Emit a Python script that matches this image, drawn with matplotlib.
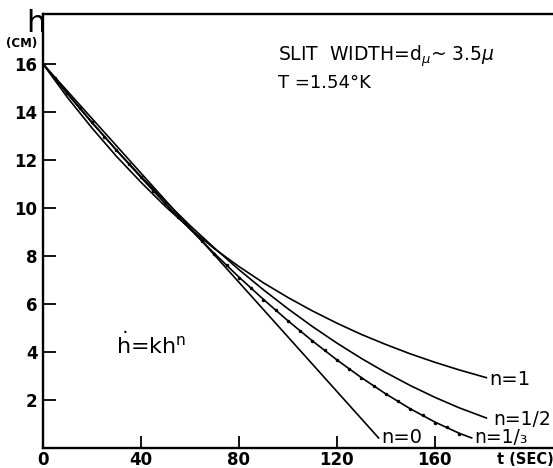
import matplotlib

matplotlib.use("Agg")
import matplotlib.pyplot as plt

# curves (t in sec, h in cm)
t_n1 = [0, 10, 20, 30, 40, 50, 60, 70, 80, 90, 100, 110, 120, 130, 140, 150, 160, 170, 181]
h_n1 = [16, 14.60, 13.33, 12.15, 11.07, 10.06, 9.14, 8.30, 7.56, 6.88, 6.27, 5.71, 5.20,
        4.73, 4.31, 3.92, 3.57, 3.25, 2.93]
t_n12 = [0, 10, 20, 30, 40, 50, 60, 70, 80, 90, 100, 110, 120, 130, 140, 150, 160, 170, 181]
h_n12 = [16, 14.75, 13.55, 12.41, 11.31, 10.27, 9.27, 8.33, 7.43, 6.59, 5.80, 5.06, 4.37,
         3.73, 3.14, 2.60, 2.11, 1.67, 1.25]
t_n13 = [0, 10, 20, 30, 40, 50, 60, 70, 80, 90, 100, 110, 120, 130, 140, 150, 160, 170, 175]
h_n13 = [16, 14.77, 13.57, 12.40, 11.27, 10.17, 9.12, 8.10, 7.12, 6.19, 5.30, 4.46, 3.67,
         2.93, 2.25, 1.63, 1.08, 0.61, 0.42]
t_n0 = [0, 137]
h_n0 = [16, 0.42]

# measured points (dots along the n=1/3 curve)
t_pts = [5, 10, 15, 20, 25, 30, 35, 40, 45, 50, 55, 65, 70, 75, 80, 85, 90, 95, 100,
         105, 110, 115, 120, 125, 130, 135, 140, 145, 150, 155, 160, 165, 170]
h_pts = [15.40, 14.80, 14.15, 13.60, 12.97, 12.43, 11.82, 11.30, 10.70, 10.20, 9.62,
         8.62, 8.08, 7.64, 7.10, 6.68, 6.17, 5.76, 5.28, 4.89, 4.44, 4.08, 3.65,
         3.31, 2.91, 2.60, 2.23, 1.95, 1.61, 1.37, 1.06, 0.86, 0.60]

x_ticks = [0, 40, 80, 120, 160]
y_ticks = [2, 4, 6, 8, 10, 12, 14, 16]

fig = plt.figure(figsize=(5.53, 4.68), dpi=100)
ax = fig.add_axes([43 / 553, 20 / 468, 510 / 553, 434 / 468])
ax.set_xlim(0, 208.2)
ax.set_ylim(0, 18.08)

for t, h in [(t_n1, h_n1), (t_n12, h_n12), (t_n13, h_n13), (t_n0, h_n0)]:
    ax.plot(t, h, color="black", lw=1.2, solid_joinstyle="round")
ax.plot(t_pts, h_pts, ".", color="black", ms=3)

ax.spines["right"].set_visible(False)
for s in ["left", "bottom", "top"]:
    ax.spines[s].set_linewidth(1.7)

ax.set_xticks(x_ticks)
ax.set_xticklabels([str(v) for v in x_ticks], fontsize=12, fontweight="bold")
ax.set_yticks(y_ticks)
ax.set_yticklabels([str(v) for v in y_ticks], fontsize=12, fontweight="bold")
ax.tick_params(direction="in", length=9, width=1.3, pad=4)
ax.tick_params(axis="x", pad=2)
ax.xaxis.get_major_ticks()[0].tick1line.set_visible(False)

# curve labels
ax.text(182, 2.85, "n=1", fontsize=14, ha="left", va="center")
ax.text(184, 1.2, "n=1/2", fontsize=13.5, ha="left", va="center")
ax.text(176, 0.42, "n=1/\u2083", fontsize=13.5, ha="left", va="center")
ax.text(138, 0.42, "n=0", fontsize=14, ha="left", va="center")

ax.text(96, 16.3, r"SLIT  WIDTH=d$_{\mu}$~ 3.5$\mu$", fontsize=13.5, va="center")
ax.text(96, 15.2, "T =1.54\u00b0K", fontsize=13, va="center")
ax.text(30, 4.3, r"$\dot{\mathrm{h}}$=kh$^{\mathrm{n}}$", fontsize=16, va="center")

# axis labels
fig.text(36 / 553, 1 - 23 / 468, "h", fontsize=22, ha="center", va="center")
fig.text(22 / 553, 1 - 44 / 468, "(CM)", fontsize=8.5, fontweight="bold",
         ha="center", va="center")
fig.text(525 / 553, 1 - 460 / 468, "t (SEC)", fontsize=10.5, fontweight="bold",
         ha="center", va="center")

fig.savefig("out.png", dpi=100)
